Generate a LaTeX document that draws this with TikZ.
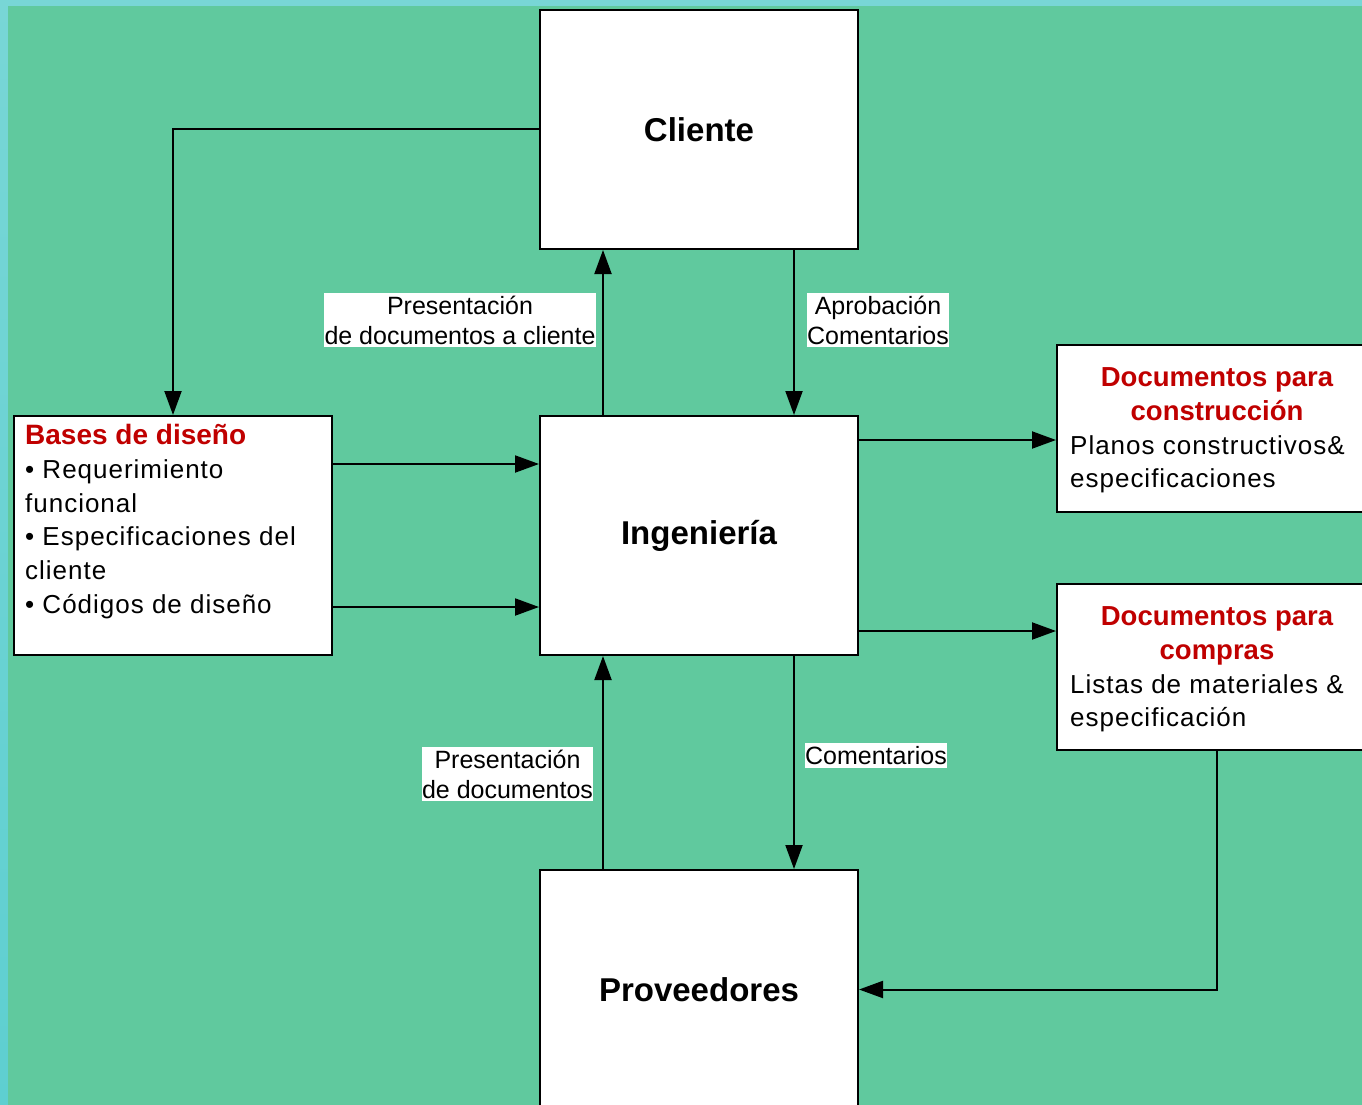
\documentclass[tikz,border=0pt]{standalone}
\usepackage{fontspec}
\setmainfont{Liberation Sans}
\newfontfamily\trackfont[LetterSpace=3.8]{Liberation Sans}
\usetikzlibrary{arrows.meta}

\definecolor{bggreen}{RGB}{96,201,158}
\definecolor{edgecyan}{RGB}{120,214,214}
\definecolor{edgecyanb}{RGB}{94,207,208}
\definecolor{edgepale}{RGB}{236,248,248}
\definecolor{headred}{RGB}{192,0,0}

\tikzset{
  box/.style={draw=black, fill=white, line width=2pt, minimum width=318pt, minimum height=239pt,
    inner sep=0pt, font=\fontsize{33}{40}\selectfont\bfseries},
  docbox/.style={draw=black, fill=white, line width=2pt, minimum width=320pt, inner sep=0pt},
  head/.style={align=center, inner sep=0pt, text=headred, font=\fontsize{27.5}{34}\selectfont\bfseries},
  body/.style={align=left, inner sep=0pt, font=\trackfont\fontsize{26}{33.8}\selectfont},
  lbl/.style={fill=white, align=center, inner xsep=0.5pt, inner ysep=3pt, font=\fontsize{25}{30}\selectfont},
  arr/.style={line width=2pt, -{Triangle[length=24pt,width=17pt]}},
}

\begin{document}
\begin{tikzpicture}[x=1pt,y=-1pt]
\clip (0,0) rectangle (1362,1105);
% background
\fill[edgecyan] (0,0) rectangle (1362,1105);
\shade[top color=edgecyan, middle color=edgepale, bottom color=edgecyanb] (0,0) rectangle (8,1105);
\fill[bggreen] (8,6) rectangle (1362,1105);

% main boxes
\node[box] (cliente) at (699,129.5) {Cliente};
\node[box] (ing) at (699,535.5) {Ingeniería};
\node[box] (prov) at (699,989.5) {Proveedores};
\node[box] (bases) at (173,535.5) {};
\node[body, anchor=north west] (basestxt) at ([shift={(12pt,-9pt)}]bases.north west)
  {{\normalfont\color{headred}\fontsize{28}{34}\selectfont\bfseries Bases de diseño}\\
   • Requerimiento\\funcional\\• Especificaciones del\\cliente\\• Códigos de diseño};

% document boxes
\node[docbox, minimum height=167pt] (doccons) at (1217,428.5) {};
\node[head, anchor=north] (docconshead) at (1217,367) {Documentos para\\construcción};
\node[body, anchor=north west] (docconsbody) at (1070,435) {Planos constructivos\&\\especificaciones};
\node[docbox, minimum height=166pt] (doccomp) at (1217,667) {};
\node[head, anchor=north] (doccomphead) at (1217,606) {Documentos para\\compras};
\node[body, anchor=north west] (doccompbody) at (1070,674) {Listas de materiales \&\\especificación};

% connectors
\draw[arr] (cliente.west) -| (bases.north);
\draw[arr] ([xshift=-96pt]ing.north) -- ([xshift=-96pt]cliente.south);
\draw[arr] ([xshift=95pt]cliente.south) -- ([xshift=95pt]ing.north);
\draw[arr] ([yshift=71.5pt]bases.east) -- ([yshift=71.5pt]ing.west);
\draw[arr] ([yshift=-71.5pt]bases.east) -- ([yshift=-71.5pt]ing.west);
\coordinate (ea) at ([yshift=95.5pt]ing.east);
\coordinate (eb) at ([yshift=-95.5pt]ing.east);
\draw[arr] (ea) -- (ea -| doccons.west);
\draw[arr] (eb) -- (eb -| doccomp.west);
\draw[arr] ([xshift=95pt]ing.south) -- ([xshift=95pt]prov.north);
\draw[arr] ([xshift=-96pt]prov.north) -- ([xshift=-96pt]ing.south);
\draw[arr] (doccomp.south) |- (prov.east);

% labels
\node[lbl] (lblpres) at (460,320) {Presentación\\de documentos a cliente};
\node[lbl] (lblaprob) at (878,320) {Aprobación\\Comentarios};
\node[lbl] (lblpresdoc) at (507.5,774) {Presentación\\de documentos};
\node[lbl] (lblcoment) at (876,755.5) {Comentarios};
\end{tikzpicture}
\end{document}
